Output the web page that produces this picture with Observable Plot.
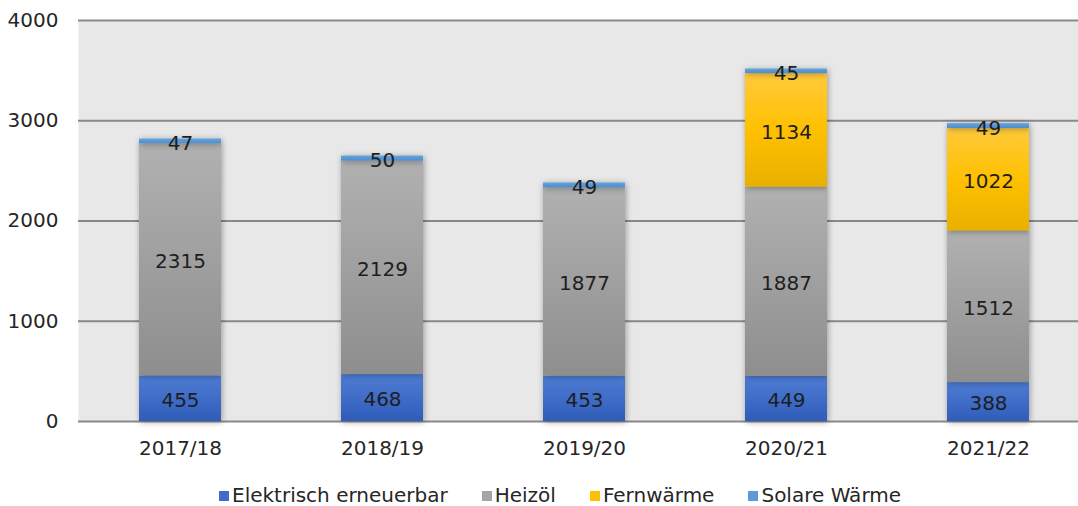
<!DOCTYPE html>
<html><head><meta charset="utf-8">
<script src="https://cdn.jsdelivr.net/npm/d3@7"></script>
<script src="https://cdn.jsdelivr.net/npm/@observablehq/plot@0.6"></script>
<style>
body{margin:0;background:#fff;font-family:"DejaVu Sans",Verdana,sans-serif;}
#chart svg{display:block;}
g[aria-label="bar"] rect{filter:drop-shadow(1px 1px 3px rgba(0,0,0,0.35));}
#legend{height:31px;display:flex;align-items:center;justify-content:flex-start;gap:34px;font-size:20px;color:#262626;padding-left:219px;padding-top:8px;box-sizing:border-box;width:1078px;}
#legend .item{display:flex;align-items:center;gap:3px;}
#legend .sw{width:10px;height:10px;display:inline-block;margin-top:3px;}
</style></head>
<body><div id="chart"></div><div id="legend"></div>
<script>
const years = ["2017/18","2018/19","2019/20","2020/21","2021/22"];
const seriesNames = ["Elektrisch erneuerbar","Heizöl","Fernwärme","Solare Wärme"];
const elektrisch = [455,468,453,449,388];
const heizoel = [2315,2129,1877,1887,1512];
const fernwaerme = [0,0,0,1134,1022];
const solar = [47,50,49,45,49];
const yTicks = [0,1000,2000,3000,4000];

const swatch = ["#3f6dc9","#a5a5a5","#ffc000","#5b9bd5"];
const grads = [
  ["#4f7dd4","#2e5cba"],
  ["#b1b1b1","#8e8e8e"],
  ["#ffca3c","#e8b000"],
  ["#62a3de","#4f8ccc"]
];
const gradIds = seriesNames.map((_, i) => "grad" + i);

const seriesValues = [elektrisch, heizoel, fernwaerme, solar];
const rows = [];
seriesNames.forEach((s, si) => {
  years.forEach((y, yi) => {
    const v = seriesValues[si][yi];
    if (v > 0) rows.push({year: y, series: s, value: v});
  });
});

const chart = Plot.plot({
  width: 1078, height: 475,
  marginTop: 20, marginLeft: 78, marginRight: 0, marginBottom: 54,
  style: {fontFamily: '"DejaVu Sans",Verdana,sans-serif', fontSize: "20px", color: "#262626", background: "transparent"},
  x: {domain: years, range: [78, 1089], paddingInner: 0.595, paddingOuter: 0.2975, label: null, tickSize: 0, tickPadding: 19},
  y: {domain: [0, 4000], ticks: yTicks, tickFormat: d => String(d), label: null, tickSize: 0, tickPadding: 20},
  color: {domain: seriesNames, range: gradIds.map(id => `url(#${id})`)},
  marks: [
    Plot.frame({fill: "#e8e8e8", stroke: null}),
    Plot.ruleY(yTicks, {stroke: "#898989", strokeWidth: 2}),
    Plot.barY(rows, Plot.stackY({x: "year", y: "value", fill: "series", order: seriesNames})),
    Plot.text(rows, Plot.stackY({x: "year", y: "value", z: "series", order: seriesNames, text: d => String(d.value), fill: "#1e1e1e", fontSize: 20, dy: 2}))
  ]
});

const svg = d3.select(chart);
const defs = svg.insert("defs", ":first-child");
grads.forEach((g, i) => {
  const lg = defs.append("linearGradient").attr("id", gradIds[i]).attr("x1", 0).attr("y1", 0).attr("x2", 0).attr("y2", 1);
  lg.append("stop").attr("offset", "0%").attr("stop-color", g[0]);
  if (i === 2) lg.append("stop").attr("offset", "50%").attr("stop-color", "#ffc000");
  lg.append("stop").attr("offset", "100%").attr("stop-color", g[1]);
});
document.getElementById("chart").appendChild(chart);

const legend = d3.select("#legend");
seriesNames.forEach((s, i) => {
  const it = legend.append("span").attr("class", "item");
  it.append("span").attr("class", "sw").style("background", swatch[i]);
  it.append("span").text(s);
});
</script>
</body></html>
